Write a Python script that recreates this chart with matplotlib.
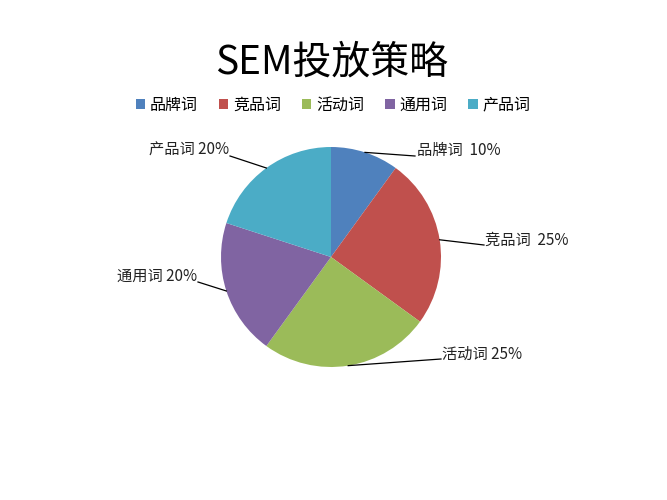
import matplotlib.pyplot as plt
import numpy as np

plt.rcParams['font.family'] = ['Noto Sans CJK SC', 'DejaVu Sans']

labels = ['品牌词', '竞品词', '活动词', '通用词', '产品词']
shares = [10, 25, 25, 20, 20]
label_text = ['品牌词  10%', '竞品词  25%', '活动词 25%', '通用词 20%', '产品词 20%']
colors = ['#4F81BD', '#C0504D', '#9BBB59', '#8064A2', '#4BACC6']

W, H = 667, 500
fig = plt.figure(figsize=(6.67, 5), dpi=100)
ax = fig.add_axes([0, 0, 1, 1])

cx, cy, r = 331, H - 257, 110
wedges, _ = ax.pie(shares, colors=colors, startangle=90, counterclock=False,
                   center=(cx, cy), radius=r, frame=True)
ax.set_xlim(0, W)
ax.set_ylim(0, H)
ax.set_aspect('equal')
ax.axis('off')

# label text anchor (px), line end (px), alignment
label_pos = [((417, 150), (415, 156), 'left'),
             ((485, 240), (484, 245), 'left'),
             ((442, 354), (441, 359), 'left'),
             ((197, 276), (198, 282), 'right'),
             ((229, 150), (230, 156), 'right')]

for w, txt, (tp, lp, ha) in zip(wedges, label_text, label_pos):
    ang = np.deg2rad((w.theta1 + w.theta2) / 2)
    x0 = cx + r * np.cos(ang)
    y0 = cy + r * np.sin(ang)
    ax.plot([x0, lp[0]], [y0, H - lp[1]], color='black', lw=0.9)
    ax.text(tp[0], H - tp[1], txt, ha=ha, va='center', fontsize=11, color='#222222')

fig.text(332 / W, 1 - 63 / H, 'SEM投放策略', ha='center', va='center', fontsize=28)

fig.legend(wedges, labels, loc='center', bbox_to_anchor=(333 / W, 1 - 105 / H),
           ncol=5, frameon=False, fontsize=11.5, handlelength=0.6, handleheight=0.6,
           handletextpad=0.3, columnspacing=1.3)

plt.savefig('out.png', dpi=100)
